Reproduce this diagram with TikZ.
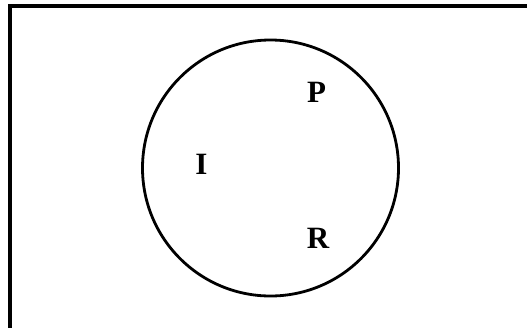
\documentclass[tikz,border=0pt]{standalone}
\usepackage{fontspec}
\setmainfont{Liberation Serif}
\begin{document}
\begin{tikzpicture}[x=1pt,y=-1pt,
  lbl/.style={font=\bfseries\fontsize{31}{31}\selectfont, inner sep=0pt, anchor=center},
  frame/.style={line width=3.6pt, line cap=rect},
  ring/.style={line width=2.8pt}]
\useasboundingbox (0,0) rectangle (527,327);
\coordinate (tl) at (10,6);
\coordinate (tr) at (527,6);
\coordinate (bl) at (10,327);
\draw[frame] (tr) -- (tl) -- (bl);
\node[ring, draw, circle, minimum size=256pt, inner sep=0pt] (c) at (270.5,168) {};
\node[lbl] (P) at (316.5,92.5) {P};
\node[lbl] (I) at (201.5,164) {I};
\node[lbl] (R) at (318,238) {R};
\end{tikzpicture}
\end{document}
